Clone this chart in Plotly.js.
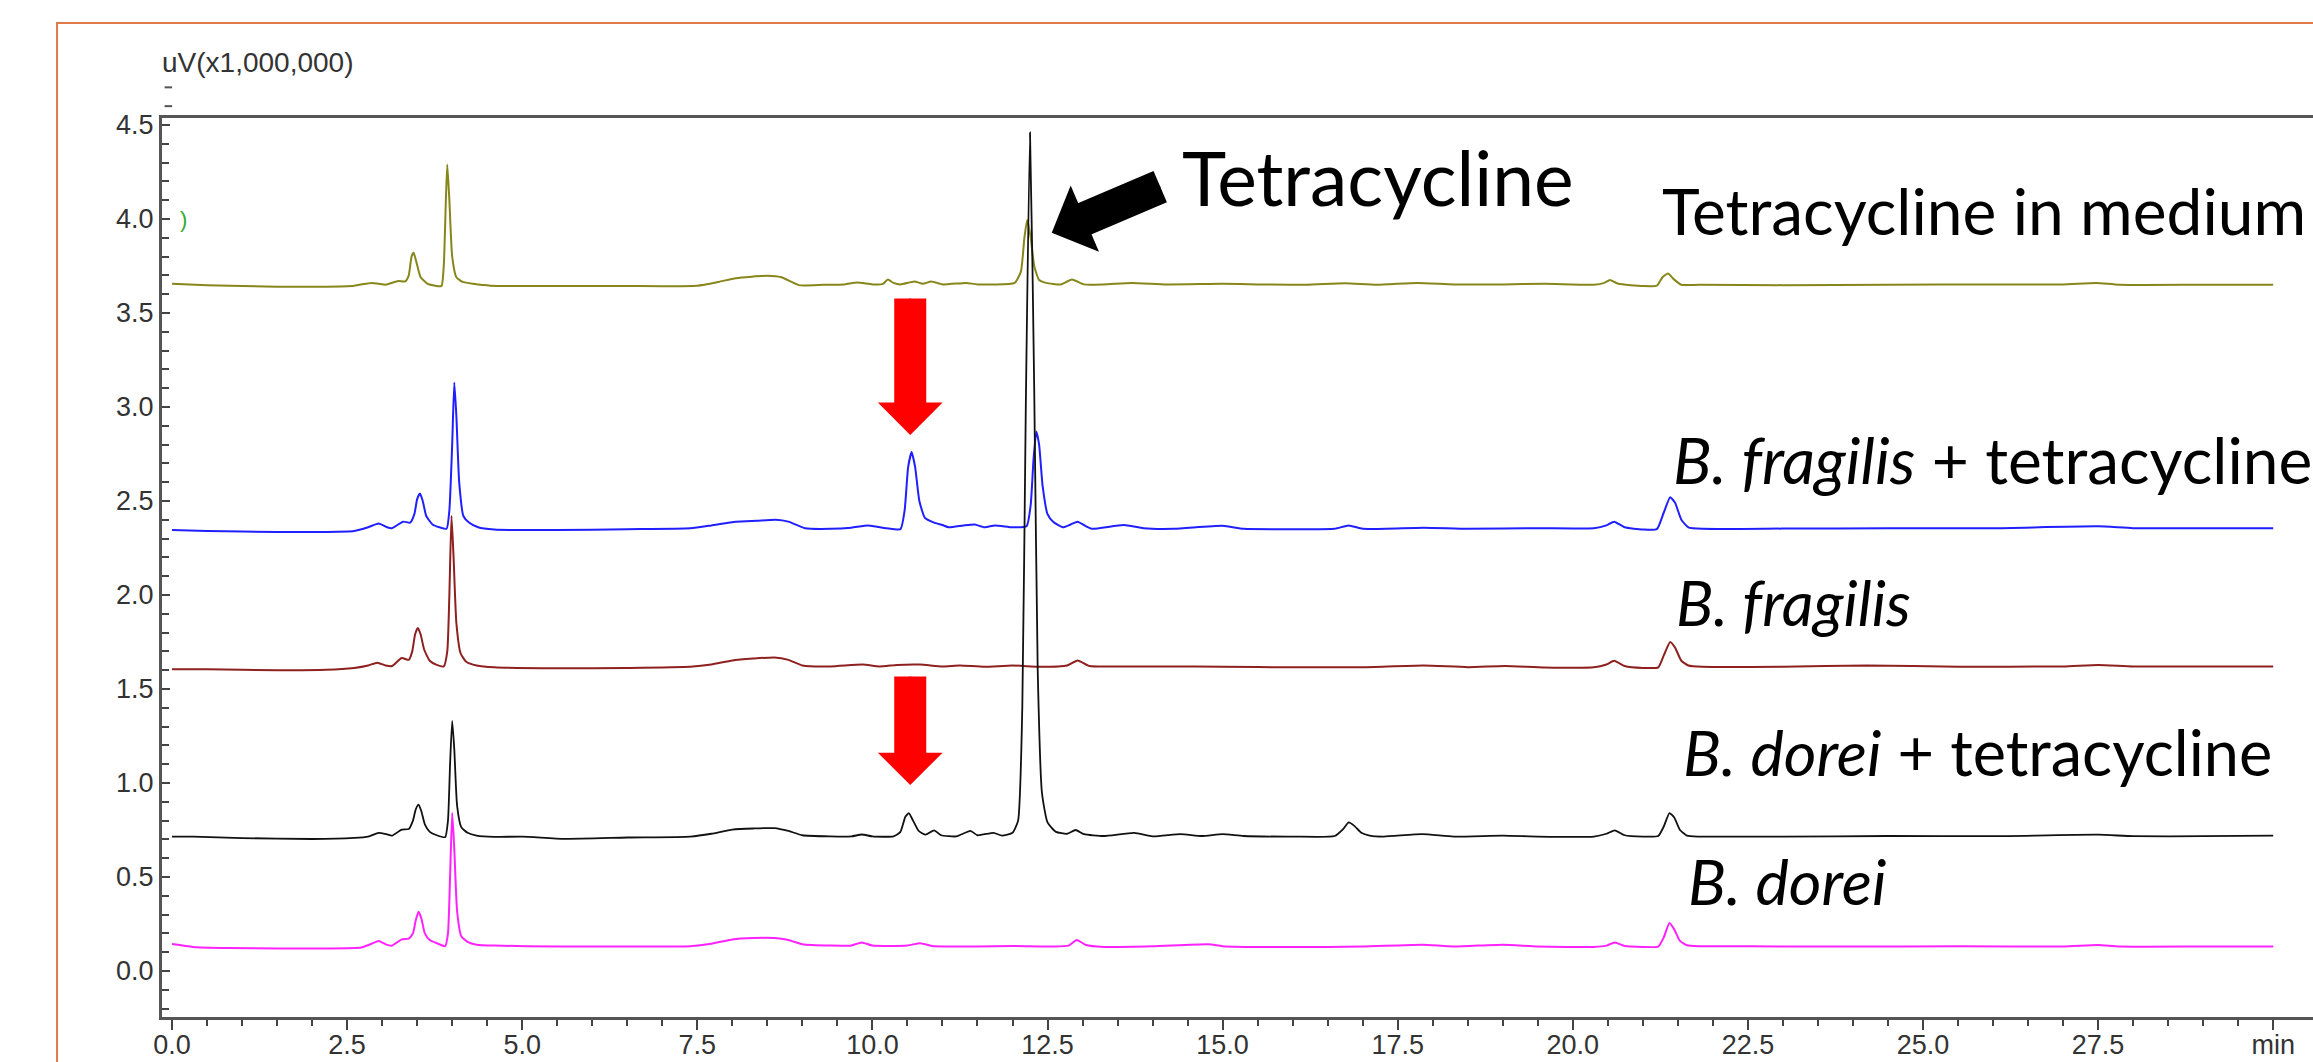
<!DOCTYPE html>
<html><head><meta charset="utf-8">
<script src="https://cdn.plot.ly/plotly-3.0.1.min.js"></script>
<style>html,body{margin:0;padding:0;background:#fff;}#chart{width:2313px;height:1062px;}</style>
</head><body><div id="chart"></div>
<script>
// ---- data: [retention time (min), signal (uV x 1,000,000)] ----
const medTet = [[0,3.655],[0.5,3.648],[1.5,3.64],[2.2,3.64],[2.6,3.645],[2.85,3.66],[2.95,3.655],[3.05,3.65],[3.23,3.67],[3.33,3.668],[3.38,3.7],[3.42,3.8],[3.45,3.82],[3.49,3.77],[3.55,3.69],[3.65,3.655],[3.8,3.642],[3.85,3.645],[3.88,3.75],[3.91,4.1],[3.93,4.29],[3.96,4.1],[4.0,3.8],[4.06,3.69],[4.15,3.665],[4.3,3.655],[4.55,3.645],[5.5,3.643],[6.5,3.643],[7.5,3.645],[7.8,3.665],[8.05,3.685],[8.5,3.698],[8.7,3.69],[8.95,3.648],[9.3,3.65],[9.6,3.652],[9.78,3.662],[10.0,3.652],[10.15,3.655],[10.22,3.678],[10.3,3.66],[10.4,3.652],[10.6,3.668],[10.72,3.655],[10.84,3.668],[11.0,3.652],[11.34,3.66],[11.5,3.652],[12.03,3.66],[12.12,3.72],[12.17,3.9],[12.21,3.995],[12.26,3.9],[12.31,3.75],[12.38,3.675],[12.48,3.66],[12.69,3.652],[12.85,3.678],[13.02,3.652],[13.3,3.652],[13.7,3.66],[14.2,3.652],[15.0,3.655],[15.5,3.652],[16.2,3.65],[16.75,3.658],[17.2,3.65],[17.78,3.66],[18.3,3.652],[19.0,3.652],[19.6,3.655],[20.3,3.65],[20.45,3.66],[20.53,3.675],[20.65,3.655],[21.0,3.643],[21.2,3.645],[21.28,3.69],[21.36,3.71],[21.44,3.68],[21.55,3.65],[21.8,3.65],[23.0,3.648],[24.5,3.65],[26.0,3.652],[27.0,3.652],[27.47,3.66],[27.8,3.65],[29.0,3.65],[30.0,3.65]];

const bFragTet = [[0,2.345],[0.5,2.34],[1.5,2.335],[2.2,2.335],[2.6,2.34],[2.8,2.36],[2.95,2.38],[3.07,2.36],[3.14,2.355],[3.3,2.39],[3.4,2.385],[3.46,2.43],[3.5,2.51],[3.54,2.54],[3.58,2.5],[3.63,2.42],[3.72,2.375],[3.82,2.36],[3.92,2.352],[3.96,2.45],[4.0,2.8],[4.03,3.13],[4.06,2.95],[4.1,2.6],[4.16,2.42],[4.24,2.385],[4.37,2.36],[4.6,2.348],[5.5,2.345],[6.5,2.35],[7.4,2.355],[7.7,2.37],[8.05,2.39],[8.35,2.395],[8.62,2.4],[8.8,2.39],[9.04,2.355],[9.4,2.352],[9.7,2.358],[9.94,2.37],[10.2,2.355],[10.4,2.35],[10.46,2.45],[10.51,2.68],[10.56,2.76],[10.61,2.68],[10.67,2.5],[10.75,2.41],[10.88,2.385],[11.0,2.372],[11.09,2.36],[11.3,2.37],[11.46,2.375],[11.6,2.36],[11.75,2.37],[12.0,2.36],[12.2,2.365],[12.26,2.48],[12.3,2.72],[12.34,2.87],[12.38,2.8],[12.43,2.58],[12.5,2.43],[12.58,2.39],[12.72,2.36],[12.83,2.375],[12.93,2.39],[13.05,2.365],[13.13,2.352],[13.59,2.372],[13.87,2.355],[14.3,2.352],[15.0,2.368],[15.3,2.352],[16.0,2.35],[16.6,2.352],[16.8,2.37],[17.0,2.352],[17.87,2.358],[18.5,2.352],[19.5,2.355],[20.3,2.355],[20.48,2.37],[20.59,2.39],[20.74,2.36],[21.0,2.348],[21.2,2.35],[21.3,2.44],[21.39,2.52],[21.46,2.49],[21.55,2.4],[21.65,2.36],[21.85,2.352],[23.0,2.353],[24.5,2.355],[26.0,2.355],[27.5,2.365],[28.0,2.355],[29.0,2.355],[30.0,2.355]];

const bFrag = [[0,1.605],[0.5,1.605],[1.5,1.6],[2.2,1.602],[2.6,1.612],[2.8,1.625],[2.93,1.64],[3.05,1.625],[3.14,1.622],[3.28,1.665],[3.38,1.655],[3.43,1.7],[3.47,1.79],[3.51,1.825],[3.55,1.79],[3.6,1.71],[3.68,1.65],[3.78,1.628],[3.88,1.62],[3.93,1.7],[3.96,2.0],[3.99,2.42],[4.02,2.2],[4.06,1.85],[4.12,1.69],[4.2,1.645],[4.35,1.625],[4.6,1.615],[5.5,1.61],[6.5,1.612],[7.4,1.618],[7.7,1.63],[8.0,1.652],[8.3,1.662],[8.6,1.668],[8.8,1.655],[9.0,1.625],[9.4,1.62],[9.86,1.63],[10.1,1.62],[10.35,1.628],[10.68,1.63],[11.0,1.62],[11.25,1.625],[11.6,1.618],[12.0,1.625],[12.4,1.618],[12.78,1.625],[12.93,1.652],[13.1,1.622],[13.5,1.62],[14.2,1.62],[15.0,1.618],[16.0,1.615],[17.0,1.616],[17.87,1.625],[18.5,1.616],[19.03,1.622],[19.6,1.614],[20.3,1.615],[20.48,1.63],[20.59,1.65],[20.74,1.622],[21.0,1.612],[21.22,1.615],[21.3,1.68],[21.39,1.75],[21.46,1.72],[21.55,1.65],[21.65,1.625],[21.85,1.618],[23.0,1.618],[24.2,1.625],[25.5,1.618],[27.0,1.62],[27.5,1.628],[28.0,1.62],[29.0,1.62],[30.0,1.62]];

const bDoreiTet = [[0,0.715],[0.3,0.715],[1.0,0.707],[2.0,0.702],[2.6,0.708],[2.8,0.715],[2.95,0.735],[3.06,0.728],[3.14,0.72],[3.28,0.752],[3.38,0.755],[3.44,0.8],[3.48,0.86],[3.52,0.885],[3.56,0.85],[3.61,0.78],[3.68,0.74],[3.78,0.722],[3.9,0.712],[3.94,0.8],[3.97,1.1],[4.0,1.33],[4.03,1.18],[4.07,0.88],[4.13,0.765],[4.22,0.735],[4.35,0.72],[4.6,0.713],[5.0,0.715],[5.6,0.703],[6.5,0.71],[7.4,0.715],[7.7,0.73],[8.0,0.752],[8.3,0.758],[8.6,0.76],[8.8,0.745],[9.0,0.722],[9.4,0.716],[9.7,0.716],[9.85,0.726],[10.0,0.716],[10.3,0.716],[10.4,0.74],[10.47,0.82],[10.52,0.84],[10.58,0.8],[10.66,0.745],[10.76,0.725],[10.88,0.748],[10.98,0.722],[11.2,0.716],[11.4,0.745],[11.5,0.722],[11.73,0.735],[11.85,0.72],[12.0,0.735],[12.08,0.8],[12.14,1.4],[12.19,3.0],[12.25,4.46],[12.31,3.1],[12.36,1.6],[12.42,0.95],[12.5,0.79],[12.62,0.74],[12.78,0.73],[12.9,0.75],[13.02,0.728],[13.3,0.718],[13.74,0.735],[14.0,0.716],[14.4,0.728],[14.7,0.718],[15.0,0.728],[15.3,0.718],[16.0,0.715],[16.6,0.718],[16.72,0.755],[16.8,0.79],[16.88,0.772],[16.98,0.735],[17.1,0.72],[17.3,0.715],[17.85,0.728],[18.3,0.715],[19.0,0.72],[19.5,0.715],[20.3,0.715],[20.48,0.73],[20.6,0.748],[20.74,0.722],[21.0,0.715],[21.22,0.718],[21.3,0.77],[21.38,0.84],[21.45,0.815],[21.53,0.75],[21.63,0.72],[21.8,0.715],[23.0,0.715],[24.5,0.718],[26.0,0.717],[27.5,0.725],[28.0,0.717],[29.0,0.717],[30.0,0.72]];

const bDorei = [[0,0.143],[0.3,0.128],[0.8,0.122],[1.5,0.12],[2.2,0.12],[2.7,0.125],[2.85,0.145],[2.95,0.16],[3.06,0.14],[3.14,0.135],[3.28,0.168],[3.38,0.172],[3.44,0.2],[3.48,0.27],[3.52,0.315],[3.56,0.28],[3.61,0.2],[3.68,0.165],[3.78,0.148],[3.9,0.132],[3.94,0.2],[3.97,0.5],[4.0,0.84],[4.03,0.65],[4.07,0.32],[4.13,0.185],[4.22,0.155],[4.35,0.14],[4.6,0.135],[5.5,0.13],[6.5,0.13],[7.4,0.132],[7.7,0.145],[8.0,0.168],[8.3,0.175],[8.6,0.175],[8.8,0.165],[9.0,0.142],[9.4,0.135],[9.7,0.136],[9.85,0.152],[10.0,0.135],[10.5,0.136],[10.68,0.148],[10.85,0.133],[11.5,0.13],[12.0,0.133],[12.6,0.13],[12.8,0.135],[12.92,0.165],[13.05,0.138],[13.3,0.128],[14.0,0.131],[14.8,0.142],[15.0,0.132],[16.0,0.127],[17.0,0.13],[17.85,0.14],[18.3,0.13],[19.0,0.14],[19.5,0.13],[20.3,0.128],[20.48,0.135],[20.6,0.152],[20.74,0.133],[21.0,0.128],[21.22,0.13],[21.3,0.18],[21.38,0.255],[21.45,0.22],[21.53,0.16],[21.63,0.137],[21.8,0.132],[22.5,0.131],[24.0,0.13],[25.5,0.131],[27.0,0.13],[27.5,0.138],[27.8,0.13],[29.0,0.13],[30.0,0.13]];

const seriesNames = ['Tetracycline in medium', 'B. fragilis + tetracycline', 'B. fragilis', 'B. dorei', 'B. dorei + tetracycline'];
const labelTexts = ['Tetracycline', 'Tetracycline in medium', '<i>B. fragilis</i> + tetracycline', '<i>B. fragilis</i>', '<i>B. dorei</i> + tetracycline', '<i>B. dorei</i>'];
const xTickVals = [0, 2.5, 5, 7.5, 10, 12.5, 15, 17.5, 20, 22.5, 25, 27.5, 30];
const xTickText = ['0.0', '2.5', '5.0', '7.5', '10.0', '12.5', '15.0', '17.5', '20.0', '22.5', '25.0', '27.5', 'min'];
const yTickVals = [0, 0.5, 1, 1.5, 2, 2.5, 3, 3.5, 4, 4.5];
const yTitle = 'uV(x1,000,000)';

// ---- styling ----
const seriesData = [medTet, bFragTet, bFrag, bDorei, bDoreiTet];
const seriesColors = ['#86861a', '#1f1fff', '#8e2020', '#ff22ff', '#111111'];
const seriesWidths = [2, 2, 2, 2, 1.8];

const traces = seriesData.map((d, i) => ({
  type: 'scatter', mode: 'lines', name: seriesNames[i],
  x: d.map(p => p[0]), y: d.map(p => p[1]),
  line: {color: seriesColors[i], width: seriesWidths[i], shape: 'spline', smoothing: 0.5},
  hoverinfo: 'skip'
}));

const xMinor = [];
for (let i = 1; i < 60; i++) { if (i % 5 !== 0) xMinor.push(i * 0.5); }

const tickFont = {family: 'Liberation Sans, Arial, sans-serif', size: 27, color: '#333'};
const labelFont = (s) => ({family: 'Lato, Open Sans, sans-serif', size: s, color: '#000'});

const X0 = -0.143, X1 = 30.568, Y0 = -0.2447, Y1 = 4.537;
const ypaper = v => (v - Y0) / (Y1 - Y0);

const labelPos = [[14.39, 4.223, 75], [21.24, 4.043, 64], [21.40, 2.723, 64], [21.45, 1.963, 62], [21.54, 1.165, 63], [21.61, 0.479, 63]];
const annotations = labelTexts.map((t, i) => ({
  x: labelPos[i][0], y: labelPos[i][1], xref: 'x', yref: 'y', text: t,
  showarrow: false, xanchor: 'left', yanchor: 'middle', font: labelFont(labelPos[i][2])
}));

// y-axis unit label
annotations.push({xref: 'paper', yref: 'paper', x: -0.001, y: 1.0612, text: yTitle, showarrow: false,
  xanchor: 'left', yanchor: 'middle', font: {family: 'Liberation Sans, Arial, sans-serif', size: 28, color: '#333'}});
// small green mark at 4.0
annotations.push({x: 0.09, y: 3.995, xref: 'x', yref: 'y', text: ')', showarrow: false, xanchor: 'left', yanchor: 'middle',
  font: {family: 'Liberation Sans, Arial, sans-serif', size: 22, color: '#33aa33'}});

// block arrows: [tipX, tipY, ax, ay, color, shaftWidth, headSize]
const arrows = [[12.56, 3.926, 110, -47, '#000000', 34, 6], [10.54, 2.851, 0, -138, '#ff0000', 32, 5.4], [10.54, 0.989, 0, -110, '#ff0000', 32, 5.4]];
arrows.forEach(a => {
  annotations.push({x: a[0], y: a[1], xref: 'x', yref: 'y', ax: a[2], ay: a[3], text: '', showarrow: true,
    arrowhead: 0, arrowwidth: a[5], arrowcolor: a[4], standoff: a[6] * 2 * 2.6});
  annotations.push({x: a[0], y: a[1], xref: 'x', yref: 'y', ax: a[2], ay: a[3], text: '', showarrow: true,
    arrowhead: 1, arrowwidth: 2, arrowsize: a[6], arrowcolor: a[4]});
});

const shapes = [
  {type: 'rect', xref: 'paper', yref: 'paper', x0: -0.0488, x1: 1.05, y0: -0.3, y1: 1.1057,
   line: {color: '#e2794a', width: 2}, fillcolor: 'rgba(0,0,0,0)', layer: 'below'},
  {type: 'line', xref: 'paper', yref: 'paper', x0: 0.0012, x1: 0.0047, y0: ypaper(4.6), y1: ypaper(4.6), line: {color: '#555', width: 2}},
  {type: 'line', xref: 'paper', yref: 'paper', x0: 0.0012, x1: 0.0047, y0: ypaper(4.7), y1: ypaper(4.7), line: {color: '#555', width: 2}}
];

const layout = {
  width: 2313, height: 1062,
  margin: {l: 162, r: 0, t: 118, b: 45, pad: 0},
  paper_bgcolor: '#fff', plot_bgcolor: '#fff', showlegend: false,
  xaxis: {range: [X0, X1], showline: true, linecolor: '#555', linewidth: 3, mirror: true,
    ticks: 'outside', ticklen: 10, tickwidth: 2, tickcolor: '#444', ticklabelstandoff: -8,
    tickmode: 'array', tickvals: xTickVals, ticktext: xTickText, tickfont: tickFont,
    showgrid: false, zeroline: false,
    minor: {tickmode: 'array', tickvals: xMinor, ticks: 'outside', ticklen: 6, tickwidth: 2, tickcolor: '#444', showgrid: false}},
  yaxis: {range: [Y0, Y1], showline: true, linecolor: '#555', linewidth: 3,
    ticks: 'inside', ticklen: 8, tickwidth: 2, tickcolor: '#444',
    tickmode: 'array', tickvals: yTickVals, ticktext: yTickVals.map(v => v.toFixed(1)), tickfont: tickFont,
    showgrid: false, zeroline: false,
    minor: {tickmode: 'linear', tick0: 0, dtick: 0.1, ticks: 'inside', ticklen: 7, tickwidth: 2, tickcolor: '#444', showgrid: false}},
  annotations: annotations, shapes: shapes
};

Plotly.newPlot('chart', traces, layout, {displayModeBar: false, staticPlot: true});
</script>
</body></html>
